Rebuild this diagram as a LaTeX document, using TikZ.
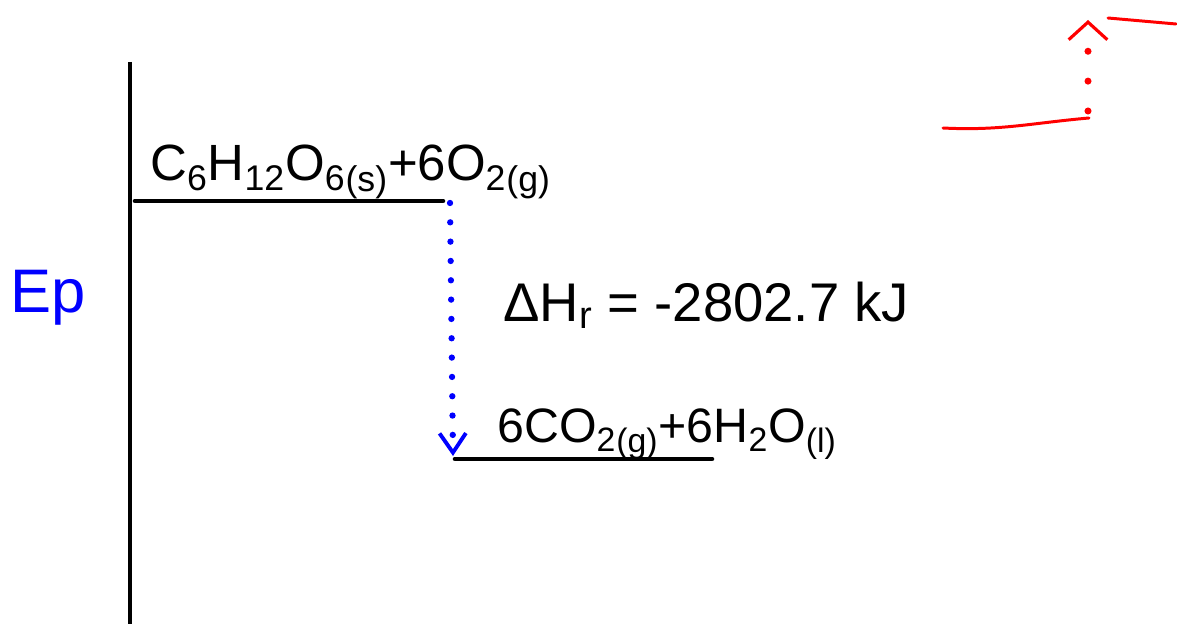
\documentclass[tikz,border=0pt]{standalone}
\usepackage{fontspec}
\setmainfont{Liberation Sans}
\usetikzlibrary{arrows.meta}
\begin{document}
\begin{tikzpicture}[x=0.02cm,y=-0.02cm,
  level/.style={line width=2.6pt,black,line cap=round},
  axisline/.style={line width=2.6pt,black},
  blueconn/.style={blue,line width=3.6pt,line cap=round,dash pattern=on 0pt off 11pt,
     -{Straight Barb[length=11pt,width=15pt,line width=2.2pt,sep=0pt]}},
  redconn/.style={red,line width=4pt,line cap=round,dash pattern=on 0pt off 17pt,
     -{Straight Barb[length=10pt,width=22pt,line width=1.8pt]}},
  redline/.style={red,line width=1.7pt,line cap=round},
  chem/.style={font=\fontsize{29}{32}\selectfont,inner sep=0pt},
  eplabel/.style={font=\fontsize{35}{40}\selectfont,text=blue,inner sep=0pt}
]
\useasboundingbox (0,0) rectangle (1177,624);
% axis
\coordinate (axTop) at (130,62);
\coordinate (axBot) at (130,624);
\draw[axisline] (axTop) -- (axBot);
\node[eplabel,anchor=base west] (ep) at (10,313) {Ep};
% levels
\coordinate (topL) at (135,201);
\coordinate (topR) at (443,201);
\coordinate (botL) at (455,459);
\coordinate (botR) at (712,459);
\draw[level] (topL) -- (topR);
\draw[level] (botL) -- (botR);
\node[chem,anchor=base west] (reac) at (150,181)
  {C\textsubscript{6}H\textsubscript{12}O\textsubscript{6}\textsubscript{(s)}+6O\textsubscript{2}\textsubscript{(g)}};
\node[chem,font=\fontsize{27.5}{31}\selectfont,anchor=base west] (prod) at (497,443)
  {6CO\textsubscript{2}\textsubscript{(g)}+6H\textsubscript{2}O\textsubscript{(l)}};
\node[chem,font=\fontsize{31}{34}\selectfont,anchor=base west] (dh) at (503,322)
  {ΔH\textsubscript{r} = -2802.7 kJ};
% blue arrow
\coordinate (arrS) at (450,203);
\coordinate (arrE) at (453,456);
\draw[blueconn] (arrS) -- (arrE);
% red sketch
\coordinate (rA) at (943,128);
\coordinate (rB) at (1089,118);
\coordinate (rTop) at (1088,20);
\coordinate (rC) at (1108,18);
\coordinate (rD) at (1176,24);
\draw[redline] (rA) to[out=-3,in=185] (rB);
\draw[redconn] (1088,111) -- (rTop);
\draw[redline] (rC) -- (rD);
\end{tikzpicture}
\end{document}
